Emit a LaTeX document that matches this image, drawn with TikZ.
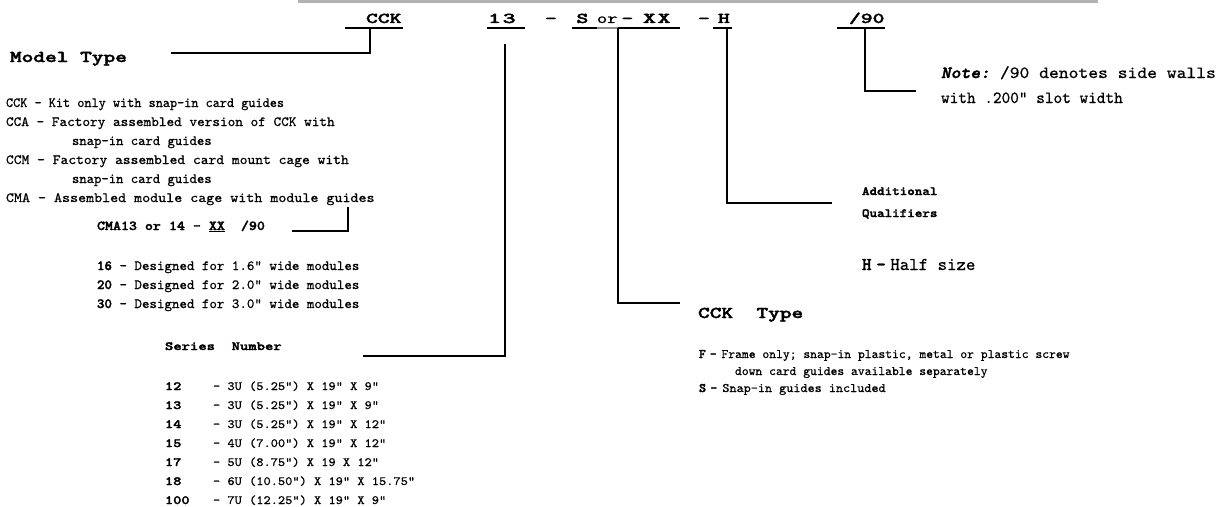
\documentclass[tikz,border=0pt]{standalone}
\usepackage{fontspec}
\usepackage{graphicx}
\setmonofont{lmmono10}[Extension=.otf, UprightFont=*-regular, ItalicFont=*-italic,
  UprightFeatures={FakeBold=0.7},
  BoldFont=lmmonolt10-bold, BoldItalicFont=lmmonolt10-boldoblique,
  BoldFeatures={FakeBold=2}, BoldItalicFeatures={FakeBold=2}]
\newcommand\sx[2]{\scalebox{#1}[1]{#2}}
\newcommand\fs[1]{\fontsize{#1}{#1}\selectfont}
\tikzset{
  txt/.style={anchor=base west, inner sep=0pt, outer sep=0pt},
  hdr/.style={txt, font=\ttfamily\bfseries\fs{15}},
  hdrlight/.style={txt, font=\ttfamily\fs{15}},
  head/.style={txt, font=\ttfamily\bfseries\fs{16.5}},
  body/.style={txt, font=\ttfamily\fs{14}},
  bodyb/.style={txt, font=\ttfamily\bfseries\fs{13.6}},
  small/.style={txt, font=\ttfamily\fs{12.5}},
  smallb/.style={txt, font=\ttfamily\bfseries\fs{12.5}},
  typ/.style={txt, font=\ttfamily\fs{13}},
  big/.style={txt, font=\ttfamily\fs{18}},
  note/.style={txt, font=\ttfamily\fs{17}},
  conn/.style={line width=1.7pt},
  uline/.style={line width=1.5pt},
}
\begin{document}
\begin{tikzpicture}[x=1pt,y=-1pt]
\useasboundingbox (0,0) rectangle (1226,506);
\fill[black!30] (298,0) rectangle (1098,3);

% ---- header code ----
\node[hdr] (hCCK) at (366,23) {\sx{1.5}{CCK}};
\node[hdr] (h13) at (488,23) {\sx{1.65}{1\kern1pt 3}};
\node[hdr] (hd1) at (545,23) {\sx{1.5}{-}};
\node[hdr] (hS) at (576.5,23) {\sx{1.5}{S}};
\node[hdrlight] (hor) at (597,23) {\sx{1.3}{or}};
\node[hdr] (hd2) at (621.5,23) {\sx{1.5}{-}};
\node[hdr] (hXX) at (643,23) {\sx{1.65}{X\kern1pt X}};
\node[hdr] (hd3) at (698,23) {\sx{1.5}{-}};
\node[hdr] (hH) at (718,23) {\sx{1.5}{H}};
\node[hdr] (h90) at (849,23) {\sx{1.5}{/90}};

% underlines
\draw[uline] (345,28) -- (403,28);
\draw[uline] (487,28) -- (525,28);
\draw[uline] (572,28) -- (597,28);
\draw[uline, black!45] (597,28) -- (618,28);
\draw[uline] (618,28) -- (680,28);
\draw[uline] (713,28) -- (732,28);
\draw[uline] (837,28) -- (885,28);

% ---- Model type ----
\node[head] (mt) at (10,62) {\sx{1.35}{Model Type}};
\node[body] (m1) at (6,107) {\sx{0.97}{CCK - Kit only with snap-in card guides}};
\node[body] (m2) at (6,126) {\sx{1.04}{CCA - Factory assembled version of CCK with}};
\node[body] (m3) at (72,145) {snap-in card guides};
\node[body] (m4) at (6,164) {\sx{1.06}{CCM - Factory assembled card mount cage with}};
\node[body] (m5) at (72,183) {snap-in card guides};
\node[body] (m6) at (6,202) {\sx{1.09}{CMA - Assembled module cage with module guides}};

\node[bodyb] (cma) at (97,230) {\sx{1.12}{CMA13 or 14 - \underline{XX}~~/90}};
\node[body] (w16) at (97,270) {\sx{1.02}{{\bfseries 16} - Designed for 1.6" wide modules}};
\node[body] (w20) at (97,289) {\sx{1.02}{{\bfseries 20} - Designed for 2.0" wide modules}};
\node[body] (w30) at (97,308) {\sx{1.02}{{\bfseries 30} - Designed for 3.0" wide modules}};

% ---- Series number ----
\node[smallb] (sn) at (165,350) {\sx{1.27}{Series~~Number}};
\foreach \n/\t [count=\i from 0] in {12/{- 3U (5.25") X 19" X 9"},
  13/{- 3U (5.25") X 19" X 9"},
  14/{- 3U (5.25") X 19" X 12"},
  15/{- 4U (7.00") X 19" X 12"},
  17/{- 5U (8.75") X 19 X 12"},
  18/{- 6U (10.50") X 19" X 15.75"},
  100/{- 7U (12.25") X 19" X 9"}}{
  \node[smallb] (sn\i) at (165,390+19*\i) {\sx{1.25}{\n}};
  \node[small] (sd\i) at (213,390+19*\i) {\sx{1.1}{\t}};
}

% ---- CCK type ----
\node[head] (ct) at (698,318) {\sx{1.35}{CCK~~Type}};
\node[typ] (f1) at (699,358) {{\bfseries F\kern4pt-}\kern-2pt{} Frame only; snap-in plastic, metal or plastic screw};
\node[typ] (f2) at (735,375) {down card guides available separately};
\node[typ] (f3) at (699,392) {\sx{1.04}{{\bfseries S\kern4pt-}\kern-2pt{} Snap-in guides included}};

% ---- Additional qualifiers ----
\node[smallb] (aq1) at (862,195) {\sx{1.15}{Additional}};
\node[smallb] (aq2) at (862,217) {\sx{1.15}{Qualifiers}};
\node[big] (hh) at (862,270) {{\bfseries H\kern5pt-}\kern-5pt{} Half size};

% ---- Note ----
\node[note] (n1) at (941,78) {\sx{1.1}{{\bfseries\itshape Note:} /90 denotes side walls}};
\node[note] (n2) at (941,103) {\sx{0.97}{with .200" slot width}};

% ---- connectors ----
\coordinate (pCCK) at (370,28);  \coordinate (eCCK) at (171,53);
\coordinate (p13) at (505,44);   \coordinate (e13) at (363,356);
\coordinate (pS) at (618,28);    \coordinate (eS) at (680,303);
\coordinate (pH) at (727,28);    \coordinate (eH) at (832,203);
\coordinate (p90) at (865,28);   \coordinate (e90) at (916,91);
\coordinate (pCMA) at (348,207); \coordinate (eCMA) at (292,231);
\draw[conn] (pCCK) |- (eCCK);
\draw[conn] (p13) |- (e13);
\draw[conn] (pS) |- (eS);
\draw[conn] (pH) |- (eH);
\draw[conn] (p90) |- (e90);
\draw[conn] (pCMA) |- (eCMA);
\end{tikzpicture}
\end{document}
